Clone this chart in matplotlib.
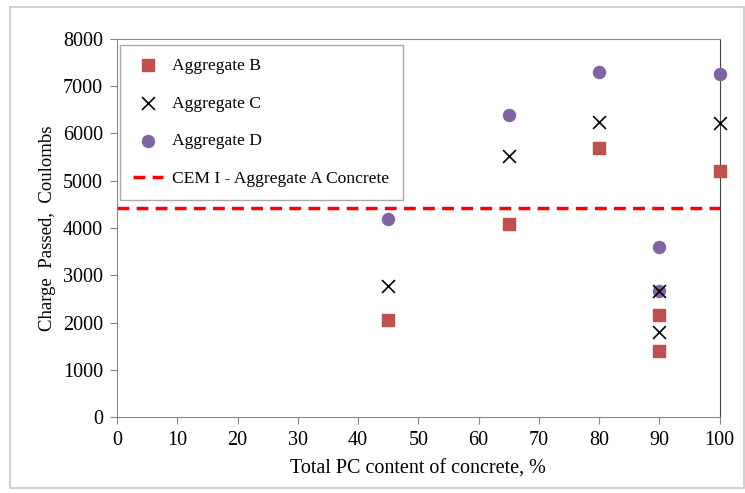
import matplotlib.pyplot as plt
from matplotlib.patches import Rectangle

plt.rcParams['font.family'] = ['Liberation Serif', 'DejaVu Serif']

# Charge passed (Coulombs) against total PC content (%)
pc_b = [45, 65, 80, 90, 90, 100]
charge_b = [2050, 4090, 5700, 2170, 1400, 5200]

pc_c = [45, 65, 80, 90, 90, 100]
charge_c = [2770, 5530, 6240, 2660, 1790, 6230]

pc_d = [45, 65, 80, 90, 90, 100]
charge_d = [4190, 6400, 7300, 3600, 2660, 7250]

cem_i_ref = 4430  # CEM I - Aggregate A concrete

x_ticks = list(range(0, 101, 10))
y_ticks = list(range(0, 8001, 1000))

fig = plt.figure(figsize=(7.45, 4.93), dpi=100)
ax = fig.add_axes([0.157, 0.154, 0.809, 0.767])

# light frame around the whole chart
fig.patches.append(Rectangle((10 / 745, 5 / 493), 734 / 745, 481 / 493,
                             transform=fig.transFigure, fill=False,
                             edgecolor='#c8c8c8', linewidth=1.2))

ax.scatter(pc_b, charge_b, marker='s', s=75, color='#C0504D', label='Aggregate B',
           zorder=4, clip_on=False)
ax.scatter(pc_c, charge_c, marker='x', s=85, color='black', linewidths=1.2, label='Aggregate C',
           zorder=5, clip_on=False)
ax.scatter(pc_d, charge_d, marker='o', s=75, color='#8064A2', label='Aggregate D',
           zorder=4, clip_on=False)
ax.axhline(cem_i_ref, color='#FF0000', linestyle=(0, (3.4, 2.1)), linewidth=2.5,
           label='CEM I - Aggregate A Concrete', zorder=2)

ax.set_xlim(0, 100)
ax.set_ylim(0, 8000)
ax.set_xticks(x_ticks)
ax.set_yticks(y_ticks)
ax.tick_params(direction='out', length=5, color='#888888', labelsize=14.5, pad=5)

for side in ['left', 'bottom', 'top']:
    ax.spines[side].set_color('#888888')
ax.spines['right'].set_color('#444444')

ax.set_xlabel('Total PC content of concrete, %', fontsize=14.5, labelpad=7)
ax.set_ylabel('Charge  Passed,  Coulombs', fontsize=13.5, labelpad=5)

leg = ax.legend(loc='upper left', bbox_to_anchor=(0.005, 0.985), fontsize=12.6,
                fancybox=False, framealpha=1, edgecolor='#aaaaaa',
                labelspacing=1.22, handlelength=1.7, borderpad=0.75,
                handletextpad=0.55, borderaxespad=0)
leg.get_frame().set_linewidth(1.0)

plt.savefig('out.png', dpi=100)
